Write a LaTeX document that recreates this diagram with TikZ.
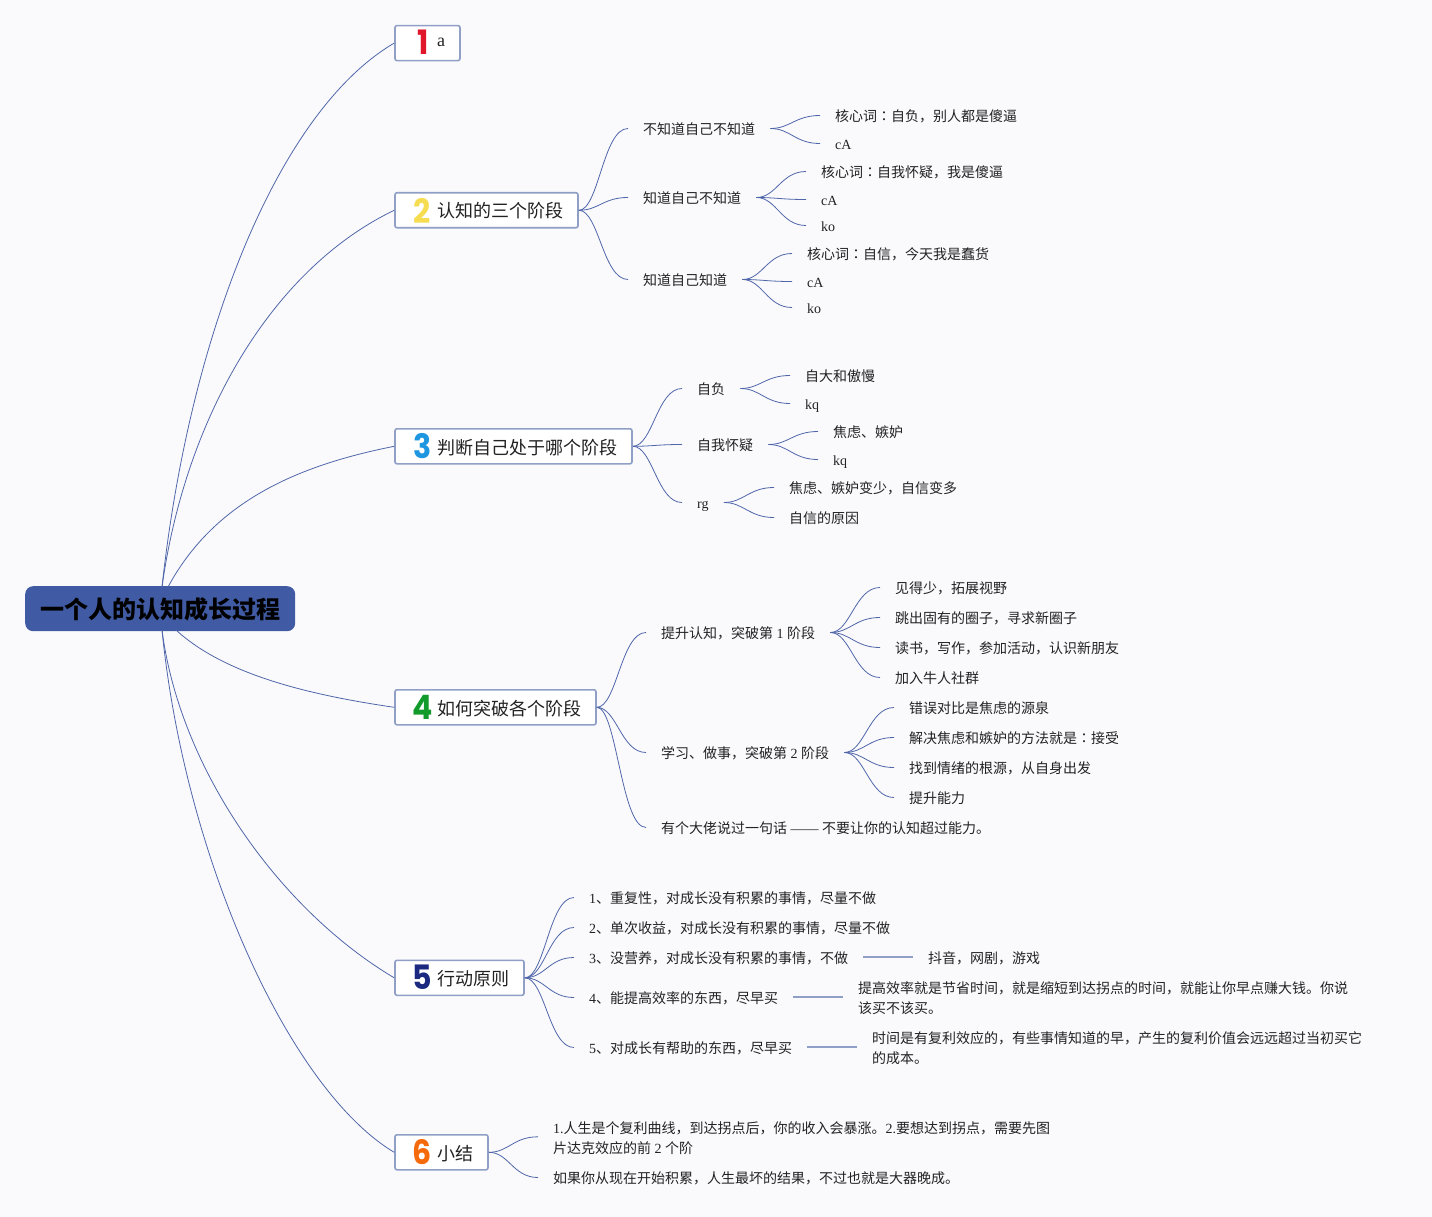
\documentclass[tikz,border=0pt]{standalone}
\usepackage{graphicx}
\usepackage{fontspec}
\setmainfont{Noto Sans CJK SC}
\newfontfamily\latf{Liberation Serif}
\newfontfamily\tcf{Noto Sans CJK TC}
\newfontfamily\numf{Poppins}
\newcommand{\lat}[1]{{\latf #1}}
\newcommand{\cln}{{\tcf\symbol{"FF1A}}}
\newcommand{\cm}{\symbol{"FF0C}}
\newcommand{\numtxt}[1]{\scalebox{1}[1.12]{#1}}
\definecolor{bg}{HTML}{FAFAFD}
\definecolor{linec}{HTML}{4F66A8}
\definecolor{boxc}{HTML}{8F9FC6}
\definecolor{rootc}{HTML}{405BA3}
\definecolor{txt}{HTML}{222222}
\tikzset{
  rootbox/.style={draw=none,fill=rootc,rounded corners=8pt,anchor=north west,inner sep=0pt,minimum width=270pt,minimum height=45pt,font=\fontsize{24}{28}\selectfont\bfseries,text=black,text height=22pt,text depth=2pt},
  topicbox/.style={draw=boxc,line width=1.6pt,fill=white,rounded corners=2pt,anchor=north west,inner sep=0pt,minimum height=35pt},
  numtag/.style={anchor=center,inner sep=0pt,font=\fontsize{30}{34}\selectfont\numf\bfseries},
  toplabel/.style={anchor=west,inner sep=0pt,text=txt,font=\fontsize{18}{22}\selectfont,text height=15pt,text depth=3pt},
  item/.style={anchor=west,inner sep=0pt,text=txt,font=\fontsize{14}{20}\selectfont,text height=11.5pt,text depth=2.5pt},
  para/.style={anchor=west,inner sep=0pt,text=txt,font=\fontsize{14}{20}\selectfont,align=left},
  conn/.style={draw=linec,line width=0.8pt},
  plainline/.style={draw=boxc,line width=1.2pt},
  scurve/.style={out=0,in=180,out distance=20pt,in distance=25pt},
}
\newcommand{\branch}[2]{\draw[conn] ([xshift=15pt,yshift=1.5pt]#1.east) to[scurve] ([xshift=-15pt,yshift=1.5pt]#2.west);}
\newcommand{\topbranch}[2]{\draw[conn] (#1.east) to[scurve] ([xshift=-15pt,yshift=1.5pt]#2.west);}
\begin{document}
\begin{tikzpicture}[x=1pt,y=-1pt]
\useasboundingbox[fill=bg] (0,0) rectangle (1432,1217);
% root
\node[rootbox] (root) at (25,586) {一个人的认知成长过程};
\coordinate (rt) at (162,587);
\coordinate (rt3) at (168,587);
\coordinate (rb) at (162,630);
\coordinate (rb4) at (176,630);
% topic boxes
\node[topicbox,minimum width=65pt] (b1) at (394.2,24.8) {};
\node[topicbox,minimum width=183pt] (b2) at (394.2,192) {};
\node[topicbox,minimum width=237pt] (b3) at (394.2,428) {};
\node[topicbox,minimum width=201pt] (b4) at (394.2,689) {};
\node[topicbox,minimum width=129pt] (b5) at (394.2,959.5) {};
\node[topicbox,minimum width=93pt] (b6) at (394.2,1134) {};
\node[numtag,text={rgb,255:red,224;green,22;blue,43}] (n1) at (423,42.5) {\numtxt{1}};
\node[numtag,text={rgb,255:red,245;green,220;blue,80}] (n2) at (422,210.5) {\numtxt{2}};
\node[numtag,text={rgb,255:red,30;green,150;blue,224}] (n3) at (422.5,446.5) {\numtxt{3}};
\node[numtag,text={rgb,255:red,18;green,154;blue,43}] (n4) at (422.5,707.5) {\numtxt{4}};
\node[numtag,text={rgb,255:red,27;green,42;blue,128}] (n5) at (422.5,977.5) {\numtxt{5}};
\node[numtag,text={rgb,255:red,245;green,106;blue,10}] (n6) at (422.5,1152.5) {\numtxt{6}};
\node[toplabel] (l1) at (437,41) {\lat{a}};
\node[toplabel] (l2) at (437,212) {认知的三个阶段};
\node[toplabel] (l3) at (437,448) {判断自己处于哪个阶段};
\node[toplabel] (l4) at (437,709) {如何突破各个阶段};
\node[toplabel] (l5) at (437,979) {行动原则};
\node[toplabel] (l6) at (437,1154) {小结};
% root connectors
\draw[conn] (rt) .. controls (190,330) and (280,110) .. (b1.west);
\draw[conn] (rt) .. controls (185,420) and (270,270) .. (b2.west);
\draw[conn] (rt3) .. controls (215,500) and (300,465) .. (b3.west);
\draw[conn] (rb4) .. controls (225,675) and (310,695) .. (b4.west);
\draw[conn] (rb) .. controls (180,770) and (280,910) .. (b5.west);
\draw[conn] (rb) .. controls (185,860) and (290,1090) .. (b6.west);
% branch 2
\node[item] (a1) at (643,130) {不知道自己不知道};
\node[item] (a2) at (643,199) {知道自己不知道};
\node[item] (a3) at (643,281) {知道自己知道};
\node[item] (a11) at (835,117) {核心词\cln 自负\cm 别人都是傻逼};
\node[item] (a12) at (835,145) {\lat{cA}};
\node[item] (a21) at (821,173) {核心词\cln 自我怀疑\cm 我是傻逼};
\node[item] (a22) at (821,201) {\lat{cA}};
\node[item] (a23) at (821,227) {\lat{ko}};
\node[item] (a31) at (807,255) {核心词\cln 自信\cm 今天我是蠢货};
\node[item] (a32) at (807,283) {\lat{cA}};
\node[item] (a33) at (807,309) {\lat{ko}};
\topbranch{b2}{a1}\topbranch{b2}{a2}\topbranch{b2}{a3}
\branch{a1}{a11}\branch{a1}{a12}
\branch{a2}{a21}\branch{a2}{a22}\branch{a2}{a23}
\branch{a3}{a31}\branch{a3}{a32}\branch{a3}{a33}
% branch 3
\node[item] (c1) at (697,390) {自负};
\node[item] (c2) at (697,446) {自我怀疑};
\node[item] (c3) at (697,504) {\lat{rg}};
\node[item] (c11) at (805,377) {自大和傲慢};
\node[item] (c12) at (805,405) {\lat{kq}};
\node[item] (c21) at (833,433) {焦虑、嫉妒};
\node[item] (c22) at (833,461) {\lat{kq}};
\node[item] (c31) at (789,489) {焦虑、嫉妒变少\cm 自信变多};
\node[item] (c32) at (789,519) {自信的原因};
\topbranch{b3}{c1}\topbranch{b3}{c2}\topbranch{b3}{c3}
\branch{c1}{c11}\branch{c1}{c12}
\branch{c2}{c21}\branch{c2}{c22}
\branch{c3}{c31}\branch{c3}{c32}
% branch 4
\node[item] (d1) at (661,634) {提升认知\cm 突破第\lat{ 1 }阶段};
\node[item] (d2) at (661,754) {学习、做事\cm 突破第\lat{ 2 }阶段};
\node[item] (d3) at (661,829) {有个大佬说过一句话\lat{ —— }不要让你的认知超过能力。};
\node[item] (d11) at (895,589) {见得少\cm 拓展视野};
\node[item] (d12) at (895,619) {跳出固有的圈子\cm 寻求新圈子};
\node[item] (d13) at (895,649) {读书\cm 写作\cm 参加活动\cm 认识新朋友};
\node[item] (d14) at (895,679) {加入牛人社群};
\node[item] (d21) at (909,709) {错误对比是焦虑的源泉};
\node[item] (d22) at (909,739) {解决焦虑和嫉妒的方法就是\cln 接受};
\node[item] (d23) at (909,769) {找到情绪的根源\cm 从自身出发};
\node[item] (d24) at (909,799) {提升能力};
\topbranch{b4}{d1}\topbranch{b4}{d2}\topbranch{b4}{d3}
\branch{d1}{d11}\branch{d1}{d12}\branch{d1}{d13}\branch{d1}{d14}
\branch{d2}{d21}\branch{d2}{d22}\branch{d2}{d23}\branch{d2}{d24}
% branch 5
\node[item] (e1) at (589,899) {\lat{1}、重复性\cm 对成长没有积累的事情\cm 尽量不做};
\node[item] (e2) at (589,929) {\lat{2}、单次收益\cm 对成长没有积累的事情\cm 尽量不做};
\node[item] (e3) at (589,959) {\lat{3}、没营养\cm 对成长没有积累的事情\cm 不做};
\node[item] (e4) at (589,999) {\lat{4}、能提高效率的东西\cm 尽早买};
\node[item] (e5) at (589,1049) {\lat{5}、对成长有帮助的东西\cm 尽早买};
\node[item] (e31) at (928,959) {抖音\cm 网剧\cm 游戏};
\node[para] (e41) at (858,998.3) {提高效率就是节省时间\cm 就是缩短到达拐点的时间\cm 就能让你早点赚大钱。你说\\该买不该买。};
\node[para] (e51) at (872,1048.3) {时间是有复利效应的\cm 有些事情知道的早\cm 产生的复利价值会远远超过当初买它\\的成本。};
\topbranch{b5}{e1}\topbranch{b5}{e2}\topbranch{b5}{e3}\topbranch{b5}{e4}\topbranch{b5}{e5}
\draw[plainline] ([xshift=15pt,yshift=2pt]e3.east) -- ([xshift=-15pt,yshift=2pt]e31.west);
\draw[plainline] ([xshift=15pt,yshift=2pt]e4.east) -- ([xshift=-15pt,yshift=1.3pt]e41.west);
\draw[plainline] ([xshift=15pt,yshift=2pt]e5.east) -- ([xshift=-15pt,yshift=1.3pt]e51.west);
% branch 6
\node[para] (f1) at (553,1138.3) {\lat{1.}人生是个复利曲线\cm 到达拐点后\cm 你的收入会暴涨。\lat{2.}要想达到拐点\cm 需要先图\\片达克效应的前\lat{ 2 }个阶};
\node[item] (f2) at (553,1179) {如果你从现在开始积累\cm 人生最坏的结果\cm 不过也就是大器晚成。};
\topbranch{b6}{f1}\topbranch{b6}{f2}
\end{tikzpicture}
\end{document}
